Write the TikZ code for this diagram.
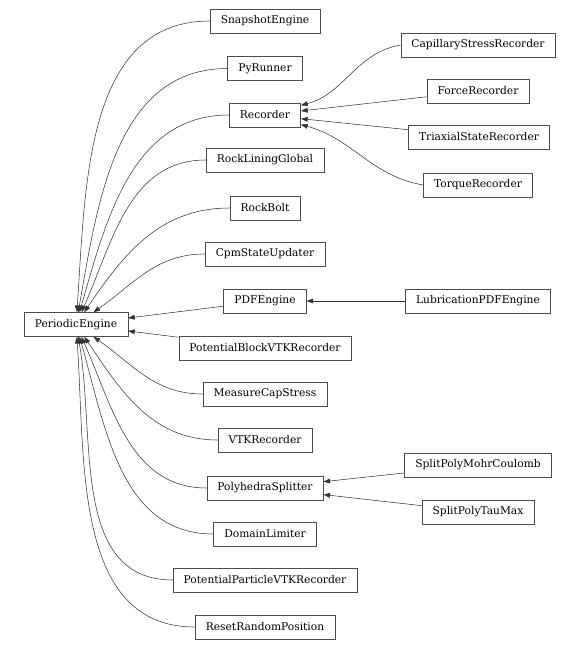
\documentclass[tikz,border=0pt]{standalone}
\usepackage{fontspec}
\setmainfont{DejaVu Serif}
\usepackage{tikz}
\usetikzlibrary{positioning,arrows.meta}

\begin{document}
\begin{tikzpicture}[
      x=0.75pt, y=-0.75pt,
      box/.style={draw=black!70, rectangle, line width=0.4pt, minimum height=18pt, inner xsep=8pt, font=\fontsize{8}{9}\selectfont, align=center},
      arr/.style={-{Triangle[length=5pt,width=3.6pt]}, line width=0.4pt, black!80},
    ]
    \useasboundingbox (0,0) rectangle (578,650);
    % base class
    \node[box] (pe) at (76,324.5) {PeriodicEngine};
    % direct children
    \node[box] (snap) at (265,21) {SnapshotEngine};
    \node[box] (py) at (265,68.5) {PyRunner};
    \node[box] (rec) at (265,115) {Recorder};
    \node[box] (rlg) at (265,160) {RockLiningGlobal};
    \node[box] (bolt) at (265,208) {RockBolt};
    \node[box] (cpm) at (265,254) {CpmStateUpdater};
    \node[box] (pdf) at (265,301) {PDFEngine};
    \node[box] (pbvtk) at (265,348) {PotentialBlockVTKRecorder};
    \node[box] (mcs) at (265,394) {MeasureCapStress};
    \node[box] (vtk) at (265,440) {VTKRecorder};
    \node[box] (poly) at (265,488) {PolyhedraSplitter};
    \node[box] (dom) at (265,534) {DomainLimiter};
    \node[box] (ppvtk) at (265,580) {PotentialParticleVTKRecorder};
    \node[box] (reset) at (265,627) {ResetRandomPosition};
    % second level
    \node[box] (cap) at (478,45) {CapillaryStressRecorder};
    \node[box] (force) at (478,91) {ForceRecorder};
    \node[box] (triax) at (479,137) {TriaxialStateRecorder};
    \node[box] (torque) at (478,185) {TorqueRecorder};
    \node[box] (lub) at (478,301) {LubricationPDFEngine};
    \node[box] (mohr) at (478,465) {SplitPolyMohrCoulomb};
    \node[box] (tau) at (478,512) {SplitPolyTauMax};

    \draw[arr] (snap.west) to[out=180,in=86] (pe);
    \draw[arr] (py.west) to[out=180,in=80] (pe);
    \draw[arr] (rec.west) to[out=180,in=74] (pe);
    \draw[arr] (rlg.west) to[out=180,in=66] (pe);
    \draw[arr] (bolt.west) to[out=180,in=56] (pe);
    \draw[arr] (cpm.west) to[out=180,in=35] (pe);
    \draw[arr] (pdf) -- (pe);
    \draw[arr] (pbvtk) -- (pe);
    \draw[arr] (mcs.west) to[out=180,in=-35] (pe);
    \draw[arr] (vtk.west) to[out=180,in=-56] (pe);
    \draw[arr] (poly.west) to[out=180,in=-66] (pe);
    \draw[arr] (dom.west) to[out=180,in=-74] (pe);
    \draw[arr] (ppvtk.west) to[out=180,in=-80] (pe);
    \draw[arr] (reset.west) to[out=180,in=-86] (pe);

    \draw[arr] (cap.west) to[out=190,in=15] (rec);
    \draw[arr] (force) -- (rec);
    \draw[arr] (triax) -- (rec);
    \draw[arr] (torque.west) to[out=170,in=-15] (rec);
    \draw[arr] (lub) -- (pdf);
    \draw[arr] (mohr) -- (poly);
    \draw[arr] (tau) -- (poly);
  \end{tikzpicture}
\end{document}
